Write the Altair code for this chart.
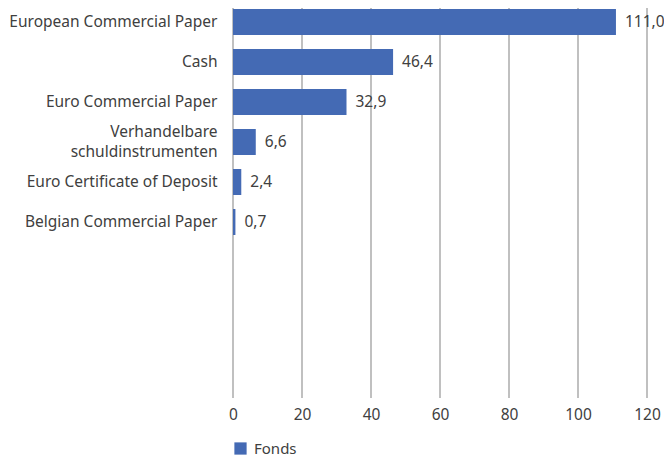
import altair as alt
import pandas as pd

categories = [
    "European Commercial Paper",
    "Cash",
    "Euro Commercial Paper",
    "Verhandelbare schuldinstrumenten",
    "Euro Certificate of Deposit",
    "Belgian Commercial Paper",
]
values = [111.0, 46.4, 32.9, 6.6, 2.4, 0.7]
series_name = "Fonds"
x_ticks = [0, 20, 40, 60, 80, 100, 120]

df = pd.DataFrame({
    "categorie": categories,
    "waarde": values,
    "label": [f"{v:.1f}".replace(".", ",") for v in values],
    "reeks": [series_name] * len(values),
})
grid_df = pd.DataFrame({"tick": x_ticks})

FONT = "Noto Sans"
TXT = "#404040"
BLUE = "#446AB4"
X_SCALE = alt.Scale(domain=[0, 120], nice=False)

grid = alt.Chart(grid_df).mark_rule(color="#ABABAB", strokeWidth=1.5).encode(
    x=alt.X("tick:Q", scale=X_SCALE, axis=alt.Axis(
        title=None, values=x_ticks, domain=False, ticks=False, grid=False,
        labelFlush=False, labelOverlap=False,
        labelPadding=9, labelFontSize=15.5, labelColor=TXT, labelFont=FONT,
    )),
    y=alt.value(0),
    y2=alt.value(390),
)

y_enc = alt.Y(
    "categorie:N",
    sort=categories,
    scale=alt.Scale(range=[-6, 234], paddingInner=0.35, paddingOuter=0.175),
    axis=alt.Axis(
        title=None, domain=False, ticks=False, grid=False,
        labelPadding=16, labelFontSize=15.5, labelColor=TXT, labelFont=FONT,
        labelLineHeight=20, labelLimit=300,
        labelOffset={"condition": {"test": "datum.value == 'Verhandelbare schuldinstrumenten'", "value": -10}, "value": 0},
        labelExpr="datum.value == 'Verhandelbare schuldinstrumenten' ? ['Verhandelbare', 'schuldinstrumenten'] : datum.label",
    ),
)

bars = alt.Chart(df).mark_bar().encode(
    y=y_enc,
    x=alt.X("waarde:Q", scale=X_SCALE),
    color=alt.Color(
        "reeks:N",
        scale=alt.Scale(range=[BLUE]),
        legend=alt.Legend(
            title=None, orient="none", legendX=0, legendY=433,
            symbolType="square", symbolSize=150, symbolStrokeWidth=0,
            labelFontSize=15, labelColor=TXT, labelFont=FONT, labelOffset=6,
        ),
    ),
)

labels = alt.Chart(df).mark_text(
    align="left", baseline="middle", dx=9, fontSize=15.5, color=TXT, font=FONT
).encode(
    y=alt.Y("categorie:N", sort=categories),
    x=alt.X("waarde:Q", scale=X_SCALE),
    text="label:N",
)

chart = (
    alt.layer(grid, bars, labels)
    .properties(
        width=414, height=390,
        autosize=alt.AutoSizeParams(type="none"),
        padding={"left": 225, "top": 0, "right": 17, "bottom": 60},
    )
    .configure_view(stroke=None)
)

chart.save("out.html", embed_options={"renderer": "svg", "actions": False})
